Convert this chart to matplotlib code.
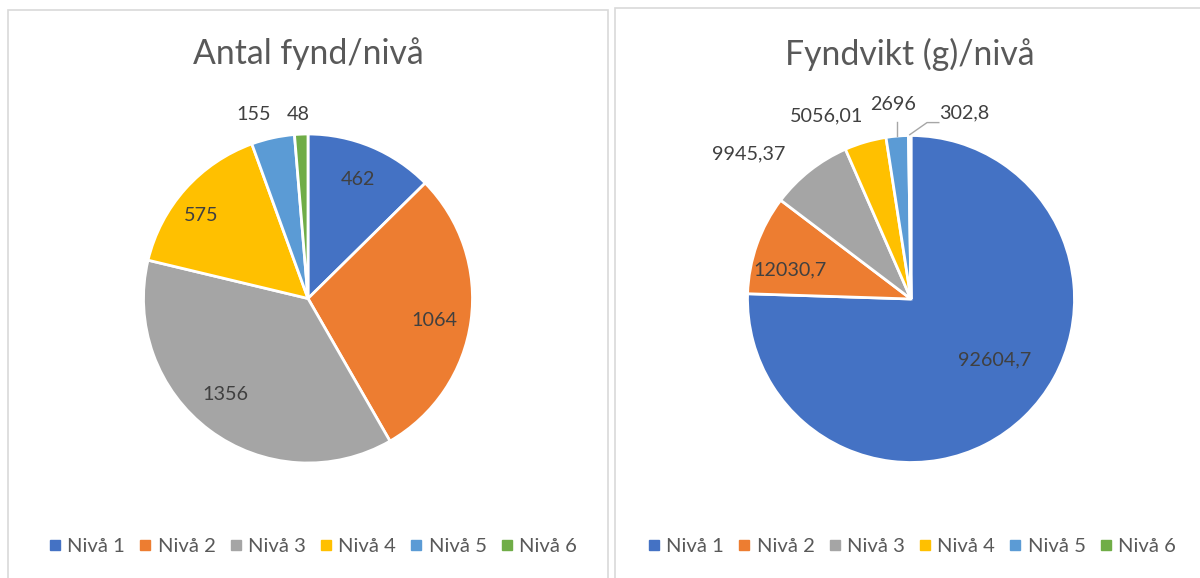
import numpy as np
import matplotlib
matplotlib.use("Agg")
import matplotlib.pyplot as plt
from matplotlib.patches import Rectangle
from matplotlib.lines import Line2D

# ---- data ----
categories = ["Nivå 1", "Nivå 2", "Nivå 3", "Nivå 4", "Nivå 5", "Nivå 6"]
antal_values = [462, 1064, 1356, 575, 155, 48]
antal_labels = ["462", "1064", "1356", "575", "155", "48"]
vikt_values = [92604.7, 12030.7, 9945.37, 5056.01, 2696, 302.8]
vikt_labels = ["92604,7", "12030,7", "9945,37", "5056,01", "2696", "302,8"]
title_left = "Antal fynd/nivå"
title_right = "Fyndvikt (g)/nivå"

# ---- style ----
colors = ["#4472C4", "#ED7D31", "#A5A5A5", "#FFC000", "#5B9BD5", "#70AD47"]
FONT = "Lato"
TXT = "#595959"
LBL = "#404040"
W, H = 1200, 578
plt.rcParams['font.family'] = [FONT, 'DejaVu Sans']

fig = plt.figure(figsize=(W / 100, H / 100), dpi=100)
fig.patch.set_facecolor("white")

def fx(px):
    return px / W

def fy(py):
    return 1 - py / H

# panel borders
for (x0, y0, x1, y1) in [(8, 10, 608, 590), (615, 8, 1210, 590)]:
    fig.patches.append(Rectangle((fx(x0), fy(y1)), fx(x1) - fx(x0), fy(y0) - fy(y1),
                                 transform=fig.transFigure, fill=False,
                                 edgecolor="#D9D9D9", linewidth=1.2))

def make_pie(cx, cy, r, values, labels, title, tx, ty, lab_style, legend_x):
    ax = fig.add_axes([fx(cx - r), fy(cy + r), fx(2 * r), fy(cy - r) - fy(cy + r)])
    wedges, _ = ax.pie(values, colors=colors, startangle=90, counterclock=False,
                       radius=1, wedgeprops=dict(edgecolor="white", linewidth=2))
    ax.set_xlim(-1, 1)
    ax.set_ylim(-1, 1)
    ax.set_aspect("equal")
    ax.axis("off")
    for w, lab, (dist, dang, ha) in zip(wedges, labels, lab_style):
        mid = np.deg2rad((w.theta1 + w.theta2) / 2 + dang)
        ax.text(dist * np.cos(mid), dist * np.sin(mid), lab, ha=ha, va="center",
                fontsize=14.2, color=LBL, clip_on=False)
    fig.text(fx(tx), fy(ty), title, ha="center", va="center", fontsize=24.3, color=TXT)
    handles = [Line2D([], [], marker="s", linestyle="none", markersize=7,
                      markerfacecolor=c, markeredgecolor=c) for c in colors]
    fig.legend(handles, categories, loc="center", bbox_to_anchor=(fx(legend_x), fy(546)),
               ncol=6, frameon=False, fontsize=14.6, labelcolor=TXT,
               handlelength=0.6, handletextpad=0.3, columnspacing=0.7)
    return ax, wedges

# left pie
left_style = [(0.785, 0, "center"), (0.78, -2, "center"), (0.77, -4, "center"),
              (0.825, 4, "center"), (1.165, 4, "center"), (1.12, 0.6, "center")]
make_pie(308, 298.5, 164.5, antal_values, antal_labels, title_left, 308, 54,
         left_style, 313)

# right pie
right_style = [(0.63, 10, "center"), (0.76, 6, "center"), (1.33, 10, "center"),
               (1.23, 8.5, "center"), (1.195, 0.5, "center"), (1.15, -9, "left")]
axr, wr = make_pie(911, 299, 163.5, vikt_values, vikt_labels, title_right, 910, 54,
                   right_style, 912)

# leader lines for the smallest slices
lc = "#A6A6A6"
m5 = np.deg2rad((wr[4].theta1 + wr[4].theta2) / 2)
axr.plot([1.0 * np.cos(m5), 1.0 * np.cos(m5)], [1.0 * np.sin(m5), 1.085], color=lc,
         lw=1, clip_on=False)
m6 = np.deg2rad((wr[5].theta1 + wr[5].theta2) / 2)
axr.plot([1.0 * np.cos(m6), 0.098, 0.17], [1.0 * np.sin(m6) + 0.005, 1.079, 1.079],
         color=lc, lw=1, clip_on=False)

fig.savefig("out.png", dpi=100, facecolor="white")
